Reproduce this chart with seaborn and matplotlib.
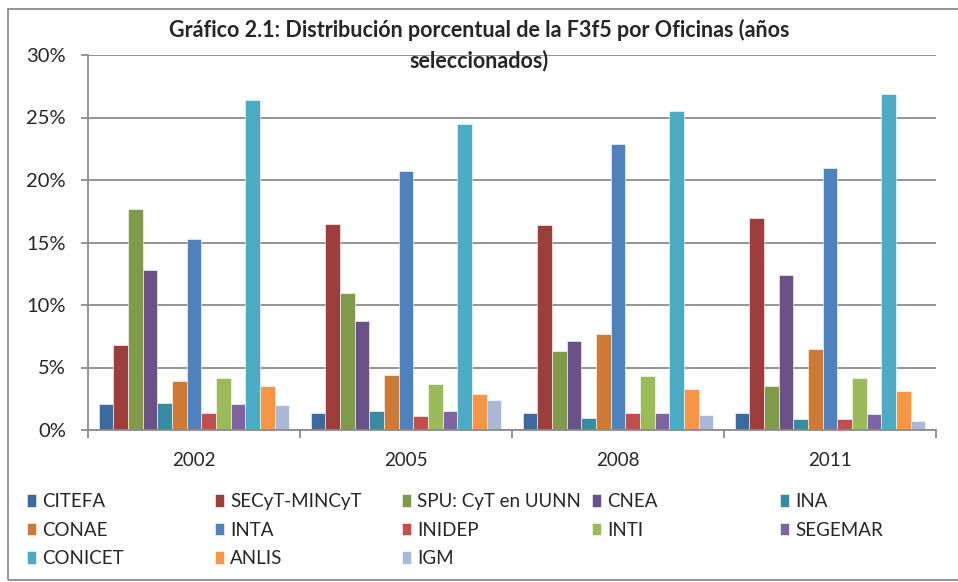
"""Gráfico 2.1: distribución porcentual de la F3f5 por oficinas"""

import matplotlib
matplotlib.use('Agg')
import matplotlib.pyplot as plt
import pandas as pd
import seaborn as sns
from matplotlib.patches import Rectangle
from matplotlib.ticker import FixedLocator, PercentFormatter

# Data (percent)
years = ['2002', '2005', '2008', '2011']
oficinas = ['CITEFA', 'SECyT-MINCyT', 'SPU: CyT en UUNN', 'CNEA', 'INA',
            'CONAE', 'INTA', 'INIDEP', 'INTI', 'SEGEMAR',
            'CONICET', 'ANLIS', 'IGM']
v2002 = [2.1, 6.8, 17.7, 12.8, 2.2, 3.9, 15.3, 1.4, 4.2, 2.1, 26.4, 3.5, 2.0]
v2005 = [1.4, 16.5, 11.0, 8.7, 1.5, 4.4, 20.7, 1.1, 3.7, 1.5, 24.5, 2.9, 2.4]
v2008 = [1.4, 16.4, 6.3, 7.1, 1.0, 7.7, 22.9, 1.4, 4.3, 1.4, 25.5, 3.3, 1.2]
v2011 = [1.4, 17.0, 3.5, 12.4, 0.9, 6.5, 21.0, 0.9, 4.2, 1.3, 26.9, 3.1, 0.7]

colors = ['#3D6A9E', '#9E3E3B', '#7F9A48', '#6A5188', '#3A8BA1', '#CD7A37',
          '#4F81BD', '#C0504D', '#9BBB59', '#8064A2', '#4BACC6', '#F79646',
          '#AAB9DA']

rows = []
for year, vals in zip(years, [v2002, v2005, v2008, v2011]):
    for of, v in zip(oficinas, vals):
        rows.append({'Año': year, 'Oficina': of, 'Valor': v})
df = pd.DataFrame(rows)

sns.set_style('white')
plt.rcParams['font.family'] = ['Lato', 'DejaVu Sans']

fig = plt.figure(figsize=(9.58, 5.82), dpi=100)
ax = fig.add_axes([88 / 958, 1 - 430 / 582, 848 / 958, 375 / 582])

sns.barplot(data=df, x='Año', y='Valor', hue='Oficina', hue_order=oficinas,
            palette=colors, width=0.9, saturation=1, ax=ax,
            edgecolor='white', linewidth=0.4)

ax.set_ylim(0, 30)
ax.set_xlim(-0.5, 3.5)
ax.set_yticks(range(0, 31, 5))
ax.yaxis.set_major_formatter(PercentFormatter(decimals=0))
ax.grid(axis='y', color='#8C8C8C', linewidth=1.3)
ax.set_axisbelow(True)
ax.set_xlabel('')
ax.set_ylabel('')

for s in ['top', 'right']:
    ax.spines[s].set_visible(False)
for s in ['left', 'bottom']:
    ax.spines[s].set_color('#8C8C8C')
    ax.spines[s].set_linewidth(1.3)

ax.tick_params(axis='y', left=True, length=5, color='#8C8C8C', width=1.3,
               labelsize=14.5, pad=11)
ax.tick_params(axis='x', bottom=False, labelsize=13.5, pad=12)
ax.xaxis.set_minor_locator(FixedLocator([-0.5, 0.5, 1.5, 2.5, 3.5]))
ax.tick_params(axis='x', which='minor', bottom=True, length=6,
               color='#8C8C8C', width=1.3)

fig.text(0.5, 1 - 45 / 582,
         'Gráfico 2.1: Distribución porcentual de la F3f5 por Oficinas (años\nseleccionados)',
         ha='center', va='center', fontsize=15.5, fontweight='bold',
         linespacing=1.45)

# legend laid out row-wise in five fixed columns
handles, labels = ax.get_legend_handles_labels()
ax.get_legend().remove()
col_x = [27, 215, 402, 592, 780]
for c, x in enumerate(col_x):
    idx = list(range(c, len(labels), 5))
    fig.legend([handles[i] for i in idx], [labels[i] for i in idx],
               loc='upper left', bbox_to_anchor=(x / 958, 1 - 493 / 582),
               frameon=False, fontsize=13.5, handlelength=0.5,
               handleheight=0.65, handletextpad=0.3, labelspacing=0.62,
               borderpad=0, borderaxespad=0)

fig.patches.append(Rectangle((8 / 958, 2 / 582), 960 / 958, 571 / 582,
                             transform=fig.transFigure, fill=False,
                             edgecolor='#8C8C8C', linewidth=1.3))

fig.savefig('out.png', dpi=100)
